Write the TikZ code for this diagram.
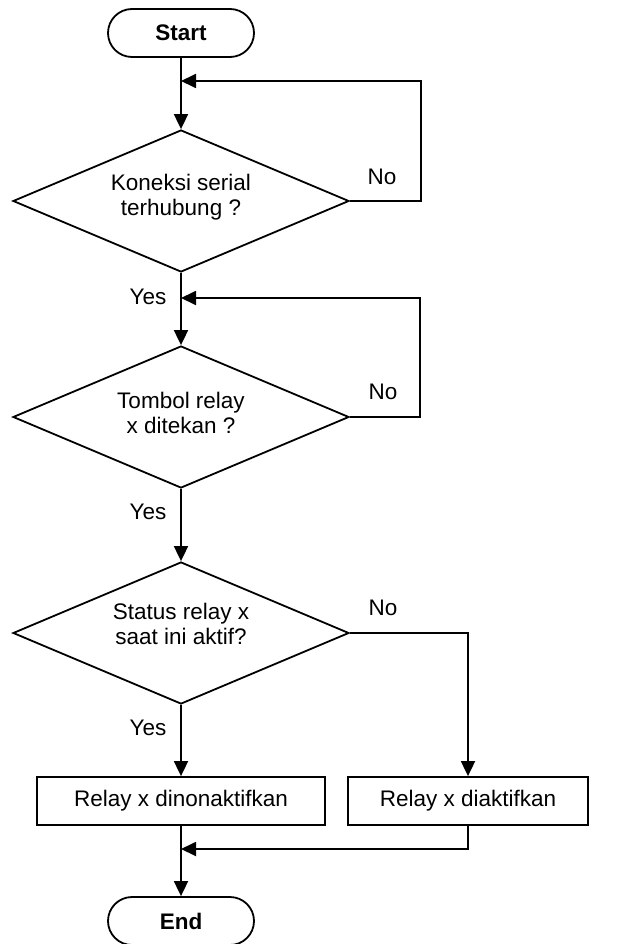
\documentclass[tikz,border=0pt]{standalone}
\usepackage{fontspec}
\setmainfont{Liberation Sans}
\usetikzlibrary{shapes.geometric,shapes.misc,arrows.meta}
\begin{document}
\begin{tikzpicture}[x=1pt,y=1pt,
  every node/.style={font=\fontsize{22.5}{25.5}\selectfont},
  lw/.style={line width=1.8pt},
  arr/.style={lw,-{Triangle[length=15pt,width=14pt]}},
  term/.style={draw,lw,rounded rectangle,minimum width=146pt,minimum height=48pt,inner sep=0pt,font=\fontsize{22.5}{25.5}\selectfont\bfseries},
  dec/.style={draw,lw,diamond,aspect=2.37,minimum width=336pt,minimum height=142pt,inner sep=0pt},
  proc/.style={draw,lw,rectangle,minimum height=48pt,inner sep=0pt},
  lbl/.style={inner sep=0pt}
]
\useasboundingbox (0,0) rectangle (625,-944);

\node[term] (start) at (181,-33) {Start};
\coordinate (j1) at (181,-81);
\node[dec,label={[align=center,yshift=4pt,font=\fontsize{22.5}{25.5}\selectfont]center:Koneksi serial\\terhubung ?}] (d1) at (181,-201) {};
\coordinate (j2) at (181,-298);
\node[dec,label={[align=center,yshift=4pt,font=\fontsize{22.5}{25.5}\selectfont]center:Tombol relay\\x ditekan ?}] (d2) at (181,-417) {};
\node[dec,label={[align=center,yshift=9pt,font=\fontsize{22.5}{25.5}\selectfont]center:Status relay x\\saat ini aktif?}] (d3) at (181,-633) {};
\node[proc,minimum width=288pt] (b1) at (181,-801) {Relay x dinonaktifkan};
\node[proc,minimum width=240pt] (b2) at (468,-801) {Relay x diaktifkan};
\coordinate (j3) at (181,-849);
\node[term] (end) at (181,-921) {End};

\coordinate (r1) at (421,-81);
\coordinate (r1b) at (421,-201);
\coordinate (r2) at (420,-298);
\coordinate (r2b) at (420,-417);
\coordinate (r3) at (468,-633);
\coordinate (r4) at (468,-849);

\draw[arr] (start.south) -- (d1.north);
\draw[arr] (d1.east) -- (r1b) -- (r1) -- (j1);
\draw[arr] (d1.south) -- (d2.north);
\draw[arr] (d2.east) -- (r2b) -- (r2) -- (j2);
\draw[arr] (d2.south) -- (d3.north);
\draw[arr] (d3.south) -- (b1.north);
\draw[arr] (d3.east) -- (r3) -- (b2.north);
\draw[arr] (b1.south) -- (end.north);
\draw[arr] (b2.south) -- (r4) -- (j3);

\node[lbl] (no1) at (382,-177) {No};
\node[lbl] (yes1) at (148,-297) {Yes};
\node[lbl] (no2) at (383,-392) {No};
\node[lbl] (yes2) at (148,-512) {Yes};
\node[lbl] (no3) at (383,-608) {No};
\node[lbl] (yes3) at (148,-728) {Yes};
\end{tikzpicture}
\end{document}
